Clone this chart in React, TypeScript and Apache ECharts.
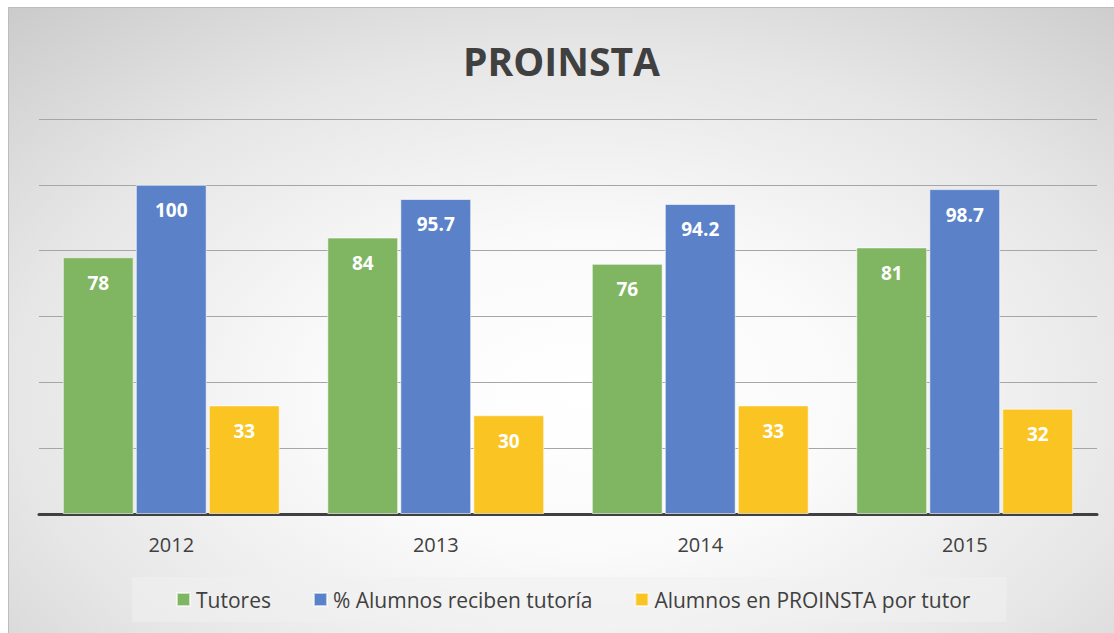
import React, { useEffect, useRef } from "react";
import * as echarts from "echarts";

const years = ["2012", "2013", "2014", "2015"];
const tutores = [78, 84, 76, 81];
const alumnosPct = [100, 95.7, 94.2, 98.7];
const alumnosPorTutor = [33, 30, 33, 32];
const seriesNames = ["Tutores", "% Alumnos reciben tutoría", "Alumnos en PROINSTA por tutor"];
const colors = ["#80b662", "#5b82c9", "#fac423"];

export default function App() {
  const ref = useRef<HTMLDivElement>(null);
  useEffect(() => {
    const chart = echarts.init(ref.current!, null, { renderer: "svg" });
    const font = "'Open Sans', 'Noto Sans', sans-serif";
    const mk = (name: string, data: number[], color: string) => ({
      name,
      type: "bar",
      data,
      barGap: "3%",
      barCategoryGap: "18%",
      itemStyle: { color, borderColor: "rgba(255,255,255,0.6)", borderWidth: 1 },
      label: {
        show: true,
        position: "insideTop",
        distance: 16,
        color: "#ffffff",
        fontWeight: "bold",
        fontSize: 19,
        fontFamily: font,
      },
    });
    chart.setOption({
      animation: false,
      backgroundColor: "transparent",
      title: {
        text: "PROINSTA",
        left: "center",
        top: 28,
        textStyle: { fontSize: 39, fontWeight: "bold", color: "#404040", fontFamily: font },
      },
      legend: {
        bottom: 11,
        left: 123,
        itemWidth: 13,
        itemHeight: 13,
        itemGap: 42,
        padding: [12, 36, 12, 44],
        backgroundColor: "rgba(240,240,240,0.55)",
        icon: "rect",
        textStyle: { fontSize: 21, color: "#404040", fontFamily: font, padding: [0, 0, 0, 1] },
        data: seriesNames,
      },
      grid: { left: 30, right: 17, top: 111, bottom: 119 },
      xAxis: {
        type: "category",
        data: years,
        axisLine: { lineStyle: { color: "#404040", width: 3 } },
        axisTick: { show: false },
        axisLabel: { fontSize: 20, color: "#404040", margin: 20, fontFamily: font },
      },
      yAxis: {
        type: "value",
        min: 0,
        max: 120,
        interval: 20,
        axisLabel: { show: false },
        axisLine: { show: false },
        axisTick: { show: false },
        splitLine: { lineStyle: { color: "#a6a6a6", width: 1 } },
      },
      series: [
        mk(seriesNames[0], tutores, colors[0]),
        mk(seriesNames[1], alumnosPct, colors[1]),
        mk(seriesNames[2], alumnosPorTutor, colors[2]),
      ],
    });
    return () => chart.dispose();
  }, []);
  return (
    <div
      style={{
        position: "absolute",
        left: 8,
        top: 7,
        width: 1106,
        height: 626,
        borderTop: "1px solid #bdbdbd",
        borderLeft: "1px solid #bdbdbd",
        boxSizing: "border-box",
        background:
          "radial-gradient(ellipse 80% 85% at 52% 62%, #ffffff 0%, #fafafa 30%, #e6e6e6 65%, #c9c9c9 100%)",
      }}
    >
      <div ref={ref} style={{ width: 1105, height: 625 }} />
    </div>
  );
}
